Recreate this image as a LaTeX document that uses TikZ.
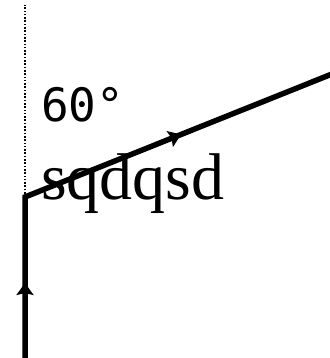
\documentclass[tikz,border=0pt]{standalone}
\usepackage{fontspec}
\newfontfamily\anglefont{DejaVu Sans Mono}
\newfontfamily\labelfont{Liberation Serif}
\usetikzlibrary{arrows.meta,decorations.markings}
\tikzset{
  ray/.style={line width=5.5pt, line join=miter, black},
  guide/.style={line width=1.2pt, dash pattern=on 1.6pt off 1.7pt, black},
  midtip/.tip={Stealth[length=12pt,width=17pt,inset=2pt]},
  txt/.style={inner sep=0pt, anchor=base west}
}
\begin{document}
\begin{tikzpicture}[x=1pt,y=1pt]
\useasboundingbox (0,0) rectangle (329,358);
\coordinate (bot) at (25,-3);
\coordinate (corner) at (25,161);
\coordinate (end) at (332,284);
\coordinate (top) at (25,353);
\draw[guide] (corner) -- (top);
\draw[ray, postaction={decorate, decoration={markings,
    mark=at position 78pt with {\arrow{midtip}},
    mark=at position 332pt with {\arrow{midtip}}}}]
  (bot) -- (corner) -- (end);
\node[txt] (ang) at (41,236) {\fontsize{46}{50}\anglefont 60°};
\node[txt] (lbl) at (41,158) {\fontsize{66}{70}\labelfont sqdqsd};
\end{tikzpicture}
\end{document}
